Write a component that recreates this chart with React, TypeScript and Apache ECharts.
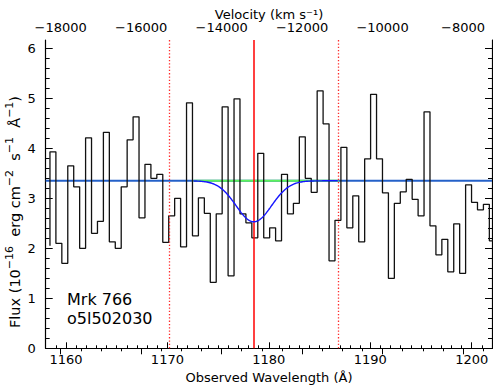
import React, { useEffect, useRef } from "react";
import * as echarts from "echarts";

// Observed flux per pixel (10^-16 erg cm^-2 s^-1 Å^-1)
const flux = [
  3.93, 2.10, 1.70, 3.65, 3.23, 2.00, 4.21, 2.30, 2.54, 4.32,
  2.13, 2.00, 3.23, 4.17, 4.63, 2.61, 3.68, 3.40, 3.48, 2.12,
  2.65, 3.00, 2.03, 4.91, 2.25, 3.01, 2.70, 1.32, 2.69, 4.83,
  1.45, 4.99, 2.69, 2.51, 2.21, 3.90, 2.21, 2.41, 2.15, 3.48,
  2.69, 2.90, 4.23, 3.40, 3.12, 5.15, 4.49, 1.75, 2.56, 4.02,
  2.41, 3.05, 2.13, 3.79, 5.08, 3.79, 3.11, 1.40, 2.90, 3.13,
  3.38, 2.98, 2.65, 4.73, 2.45, 1.87, 2.18, 1.53, 2.49, 1.50,
  3.27, 2.92, 2.77, 2.88, 2.15,
];
const FIRST_EDGE = 1158.42; // left edge of first pixel (Å)
const PIXEL_WIDTH = 0.5854; // Å per pixel
const START_LEVEL = 2.05;

// fit
const CONTINUUM = 3.35;
const LINE_CENTER = 1178.52;
const LINE_DEPTH = 0.82;
const LINE_SIGMA = 1.75;
const FIT_WINDOW = [1172.6, 1186.87];
const WINDOW_MARKS = [1170.18, 1186.87];

// axes
const waveRange = [1158, 1202];
const velRange = [-18373, -7279];
const fluxRange = [0, 6.166];
const waveMajor = [1160, 1170, 1180, 1190, 1200];
const velMajor = [-18000, -16000, -14000, -12000, -10000, -8000];
const fluxMajor = [0, 1, 2, 3, 4, 5, 6];

const FONT = "DejaVu Sans";

export default function App() {
  const ref = useRef<HTMLDivElement>(null);
  useEffect(() => {
    if (!ref.current) return;
    const chart = echarts.init(ref.current, undefined, { renderer: "svg" });

    const stepPts: number[][] = [[FIRST_EDGE, START_LEVEL]];
    flux.forEach((v, i) => {
      const l = FIRST_EDGE + i * PIXEL_WIDTH;
      stepPts.push([l, v], [l + PIXEL_WIDTH, v]);
    });

    const modelPts: number[][] = [];
    for (let w = FIT_WINDOW[0]; w <= FIT_WINDOW[1] + 1e-9; w += 0.05) {
      modelPts.push([
        w,
        CONTINUUM - LINE_DEPTH * Math.exp(-0.5 * Math.pow((w - LINE_CENTER) / LINE_SIGMA, 2)),
      ]);
    }

    const waveMinor: number[] = [];
    for (let w = waveRange[0] + 1; w < waveRange[1]; w++) if (w % 10 !== 0) waveMinor.push(w);
    const velMinor: number[] = [];
    for (let v = -18000; v <= -7500; v += 500) if (v % 2000 !== 0) velMinor.push(v);
    const fluxMinor: number[] = [];
    for (let k = 1; k <= 30; k++) if (k % 5 !== 0) fluxMinor.push(k / 5);

    const axisLine = { show: true, lineStyle: { color: "#000", width: 1.2 } };
    const lbl = { color: "#000", fontSize: 13, fontFamily: FONT };
    const fmt = (v: number) => String(v).replace("-", "\u2212");

    const xAx = (pos: string, range: number[], vals: number[], len: number, labels: boolean, showLine: boolean) => ({
      type: "value",
      position: pos,
      min: range[0],
      max: range[1],
      axisLine: showLine ? axisLine : { show: false },
      splitLine: { show: false },
      axisTick: { show: true, inside: true, length: len, customValues: vals, lineStyle: { color: "#000", width: 1 } },
      axisLabel: labels
        ? { show: true, customValues: vals, margin: pos === "top" ? 6 : 5, formatter: fmt, ...lbl }
        : { show: false },
    });
    const yAx = (pos: string, vals: number[], len: number, labels: boolean, showLine: boolean) => ({
      type: "value",
      position: pos,
      min: fluxRange[0],
      max: fluxRange[1],
      axisLine: showLine ? axisLine : { show: false },
      splitLine: { show: false },
      axisTick: { show: true, inside: true, length: len, customValues: vals, lineStyle: { color: "#000", width: 1 } },
      axisLabel: labels ? { show: true, customValues: vals, margin: 10, ...lbl } : { show: false },
    });

    chart.setOption({
      animation: false,
      backgroundColor: "#fff",
      grid: { left: 45.7, right: 1, top: 40, bottom: 38.7, containLabel: false },
      xAxis: [
        xAx("bottom", waveRange, waveMajor, 6, true, true),
        xAx("bottom", waveRange, waveMinor, 3, false, false),
        xAx("top", velRange, velMajor, 6, true, true),
        xAx("top", velRange, velMinor, 3, false, false),
      ],
      yAxis: [
        yAx("left", fluxMajor, 7, true, true),
        yAx("left", fluxMinor, 4, false, false),
        yAx("right", fluxMajor, 7, false, true),
        yAx("right", fluxMinor, 4, false, false),
      ],
      series: [
        {
          type: "line",
          name: "continuum",
          data: [
            [waveRange[0], CONTINUUM],
            [waveRange[1], CONTINUUM],
          ],
          showSymbol: false,
          lineStyle: { color: "#2461c8", width: 2 },
          z: 2,
        },
        {
          type: "line",
          name: "window",
          data: [
            [FIT_WINDOW[0], CONTINUUM],
            [FIT_WINDOW[1], CONTINUUM],
          ],
          showSymbol: false,
          lineStyle: { color: "#5cf25c", width: 2 },
          z: 3,
        },
        {
          type: "line",
          name: "flux",
          data: stepPts,
          showSymbol: false,
          clip: true,
          lineStyle: { color: "#111", width: 1.3 },
          z: 4,
          markLine: {
            silent: true,
            symbol: "none",
            label: { show: false },
            data: [
              { xAxis: LINE_CENTER, lineStyle: { color: "#ff0000", width: 1.5, type: "solid" } },
              { xAxis: WINDOW_MARKS[0], lineStyle: { color: "#ff2a2a", width: 1.3, type: [1.3, 2] } },
              { xAxis: WINDOW_MARKS[1], lineStyle: { color: "#ff2a2a", width: 1.3, type: [1.3, 2] } },
            ],
          },
        },
        {
          type: "line",
          name: "model",
          data: modelPts,
          showSymbol: false,
          smooth: false,
          lineStyle: { color: "#1515ff", width: 1.4 },
          z: 5,
        },
      ],
      graphic: [
        {
          type: "text",
          x: 269,
          y: 14,
          style: { text: "Velocity (km s\u207B\u00B9)", fill: "#000", font: `13px "${FONT}"`, align: "center", verticalAlign: "middle" },
        },
        {
          type: "text",
          x: 269,
          y: 377,
          style: { text: "Observed Wavelength (\u00C5)", fill: "#000", font: `13px "${FONT}"`, align: "center", verticalAlign: "middle" },
        },
        {
          type: "text",
          x: 13,
          y: 212,
          rotation: Math.PI / 2,
          style: {
            text: "{n|Flux (10}{s|\u221216}{n|  erg cm}{s|\u22122}{n|  s}{s|\u22121}{n|  \u00C5}{s|\u22121}{n|)}",
            fill: "#000",
            align: "center",
            verticalAlign: "middle",
            rich: {
              n: { fontFamily: FONT, fontSize: 14.5, lineHeight: 18, fill: "#000", verticalAlign: "bottom" },
              s: { fontFamily: FONT, fontSize: 11, lineHeight: 12, fill: "#000", verticalAlign: "top" },
            },
          },
        },
        {
          type: "text",
          x: 67,
          y: 299,
          style: { text: "Mrk 766", fill: "#000", font: `16px "${FONT}"`, align: "left", verticalAlign: "middle" },
        },
        {
          type: "text",
          x: 67,
          y: 318,
          style: { text: "o5l502030", fill: "#000", font: `16px "${FONT}"`, align: "left", verticalAlign: "middle" },
        },
      ],
    });
    return () => chart.dispose();
  }, []);
  return <div ref={ref} style={{ position: "fixed", left: 0, top: 0, width: 493, height: 387 }} />;
}
